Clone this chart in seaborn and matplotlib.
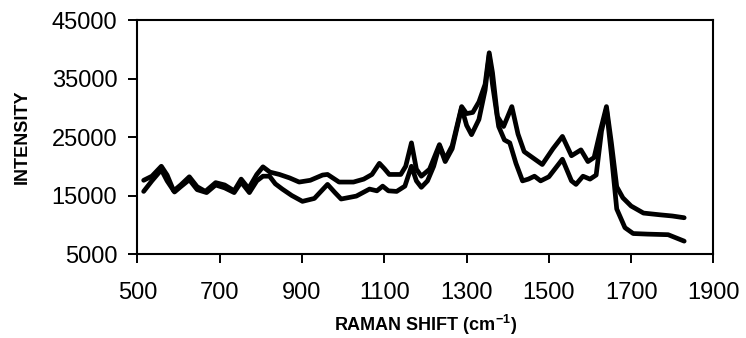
import numpy as np
import pandas as pd
import matplotlib
matplotlib.use("Agg")
import matplotlib.pyplot as plt
import seaborn as sns

# Raman spectra: two samples, intensity vs. Raman shift (cm^-1)
shift_a = [515, 535, 558, 572, 588, 605, 626, 645, 665, 690, 712, 735, 752, 770,
           790, 805, 822, 845, 870, 893, 920, 950, 962, 990, 1025, 1050, 1070,
           1088, 1100, 1112, 1140, 1152, 1166, 1178, 1190, 1210, 1234, 1248,
           1265, 1288, 1300, 1315, 1330, 1345, 1355, 1363, 1375, 1390, 1410,
           1425, 1440, 1460, 1484, 1510, 1533, 1555, 1578, 1595, 1610, 1625,
           1640, 1652, 1665, 1680, 1700, 1730, 1770, 1800, 1829]
intensity_a = [17600, 18300, 20000, 18500, 15800, 16800, 18200, 16500, 15700,
               17200, 16800, 15800, 17800, 16200, 18600, 19900, 19000, 18600,
               18000, 17300, 17600, 18500, 18600, 17300, 17300, 17800, 18600,
               20500, 19600, 18600, 18600, 20000, 24000, 19500, 18300, 19500,
               23700, 21200, 23500, 30200, 29000, 29200, 31000, 34000, 39400,
               36000, 28500, 26800, 30200, 25500, 22500, 21500, 20300, 23000,
               25100, 21800, 22800, 20800, 21500, 26000, 30200, 24000, 16500,
               14600, 13200, 12000, 11700, 11500, 11200]

shift_b = [515, 535, 558, 572, 590, 605, 626, 645, 668, 690, 712, 735, 752, 772,
           790, 805, 821, 835, 852, 875, 901, 930, 962, 980, 995, 1032, 1064,
           1082, 1096, 1110, 1130, 1150, 1166, 1178, 1190, 1205, 1220, 1234,
           1248, 1265, 1288, 1300, 1312, 1330, 1345, 1355, 1363, 1378, 1392,
           1405, 1420, 1436, 1450, 1465, 1480, 1500, 1533, 1555, 1566, 1583,
           1600, 1615, 1628, 1640, 1652, 1665, 1685, 1705, 1740, 1790, 1829]
intensity_b = [15700, 17500, 19400, 17500, 15600, 16500, 17700, 16000, 15500,
               16800, 16300, 15500, 17300, 15500, 17500, 18300, 18300, 17000,
               16100, 15000, 14000, 14500, 16900, 15500, 14400, 14900, 16100,
               15800, 16600, 15800, 15700, 16600, 20000, 17500, 16400, 17500,
               20000, 23500, 20800, 23000, 30000, 27000, 25400, 28000, 33000,
               39000, 34000, 26800, 24500, 24000, 20500, 17500, 17800, 18300,
               17500, 18200, 21200, 17500, 16900, 18300, 17800, 18500, 26000,
               29800, 22000, 12700, 9500, 8500, 8400, 8300, 7200]

x_ticks = [500, 700, 900, 1100, 1300, 1500, 1700, 1900]
y_ticks = [5000, 15000, 25000, 35000, 45000]

df = pd.concat([
    pd.DataFrame({"shift": shift_a, "intensity": intensity_a, "sample": "A"}),
    pd.DataFrame({"shift": shift_b, "intensity": intensity_b, "sample": "B"}),
])

sns.set_style("ticks")
plt.rcParams["font.family"] = ["Liberation Sans", "DejaVu Sans"]
plt.rcParams["mathtext.default"] = "regular"
plt.rcParams["text.color"] = "black"
plt.rcParams["axes.labelcolor"] = "black"

fig = plt.figure(figsize=(7.46, 3.38), dpi=100)
ax = fig.add_axes([0.1843, 0.2485, 0.772, 0.6923])

sns.lineplot(data=df, x="shift", y="intensity", units="sample",
             estimator=None, color="black", linewidth=3.4, sort=False,
             legend=False, ax=ax)

ax.set_xlim(500, 1900)
ax.set_ylim(5000, 45000)
ax.set_xticks(x_ticks)
ax.set_yticks(y_ticks)
ax.tick_params(axis="both", direction="out", length=6.5, width=1.4,
               labelsize=17, colors="black")
ax.tick_params(axis="y", pad=8)
ax.tick_params(axis="x", pad=14)
for side in ["left", "right", "top", "bottom"]:
    ax.spines[side].set_visible(True)
    ax.spines[side].set_linewidth(1.5)
    ax.spines[side].set_color("black")

label_font = dict(fontsize=13, fontweight="bold", color="black")
ax.set_xlabel("RAMAN SHIFT (cm$^{-1}$)", **label_font)
ax.set_ylabel("INTENSITY", **label_font)
ax.xaxis.label.set_va("center")
ax.yaxis.label.set_va("center")
ax.xaxis.set_label_coords(0.5, -71 / 234)
ax.yaxis.set_label_coords(-115.5 / 576, 0.5)

fig.savefig("out.png", dpi=100, facecolor="white")
